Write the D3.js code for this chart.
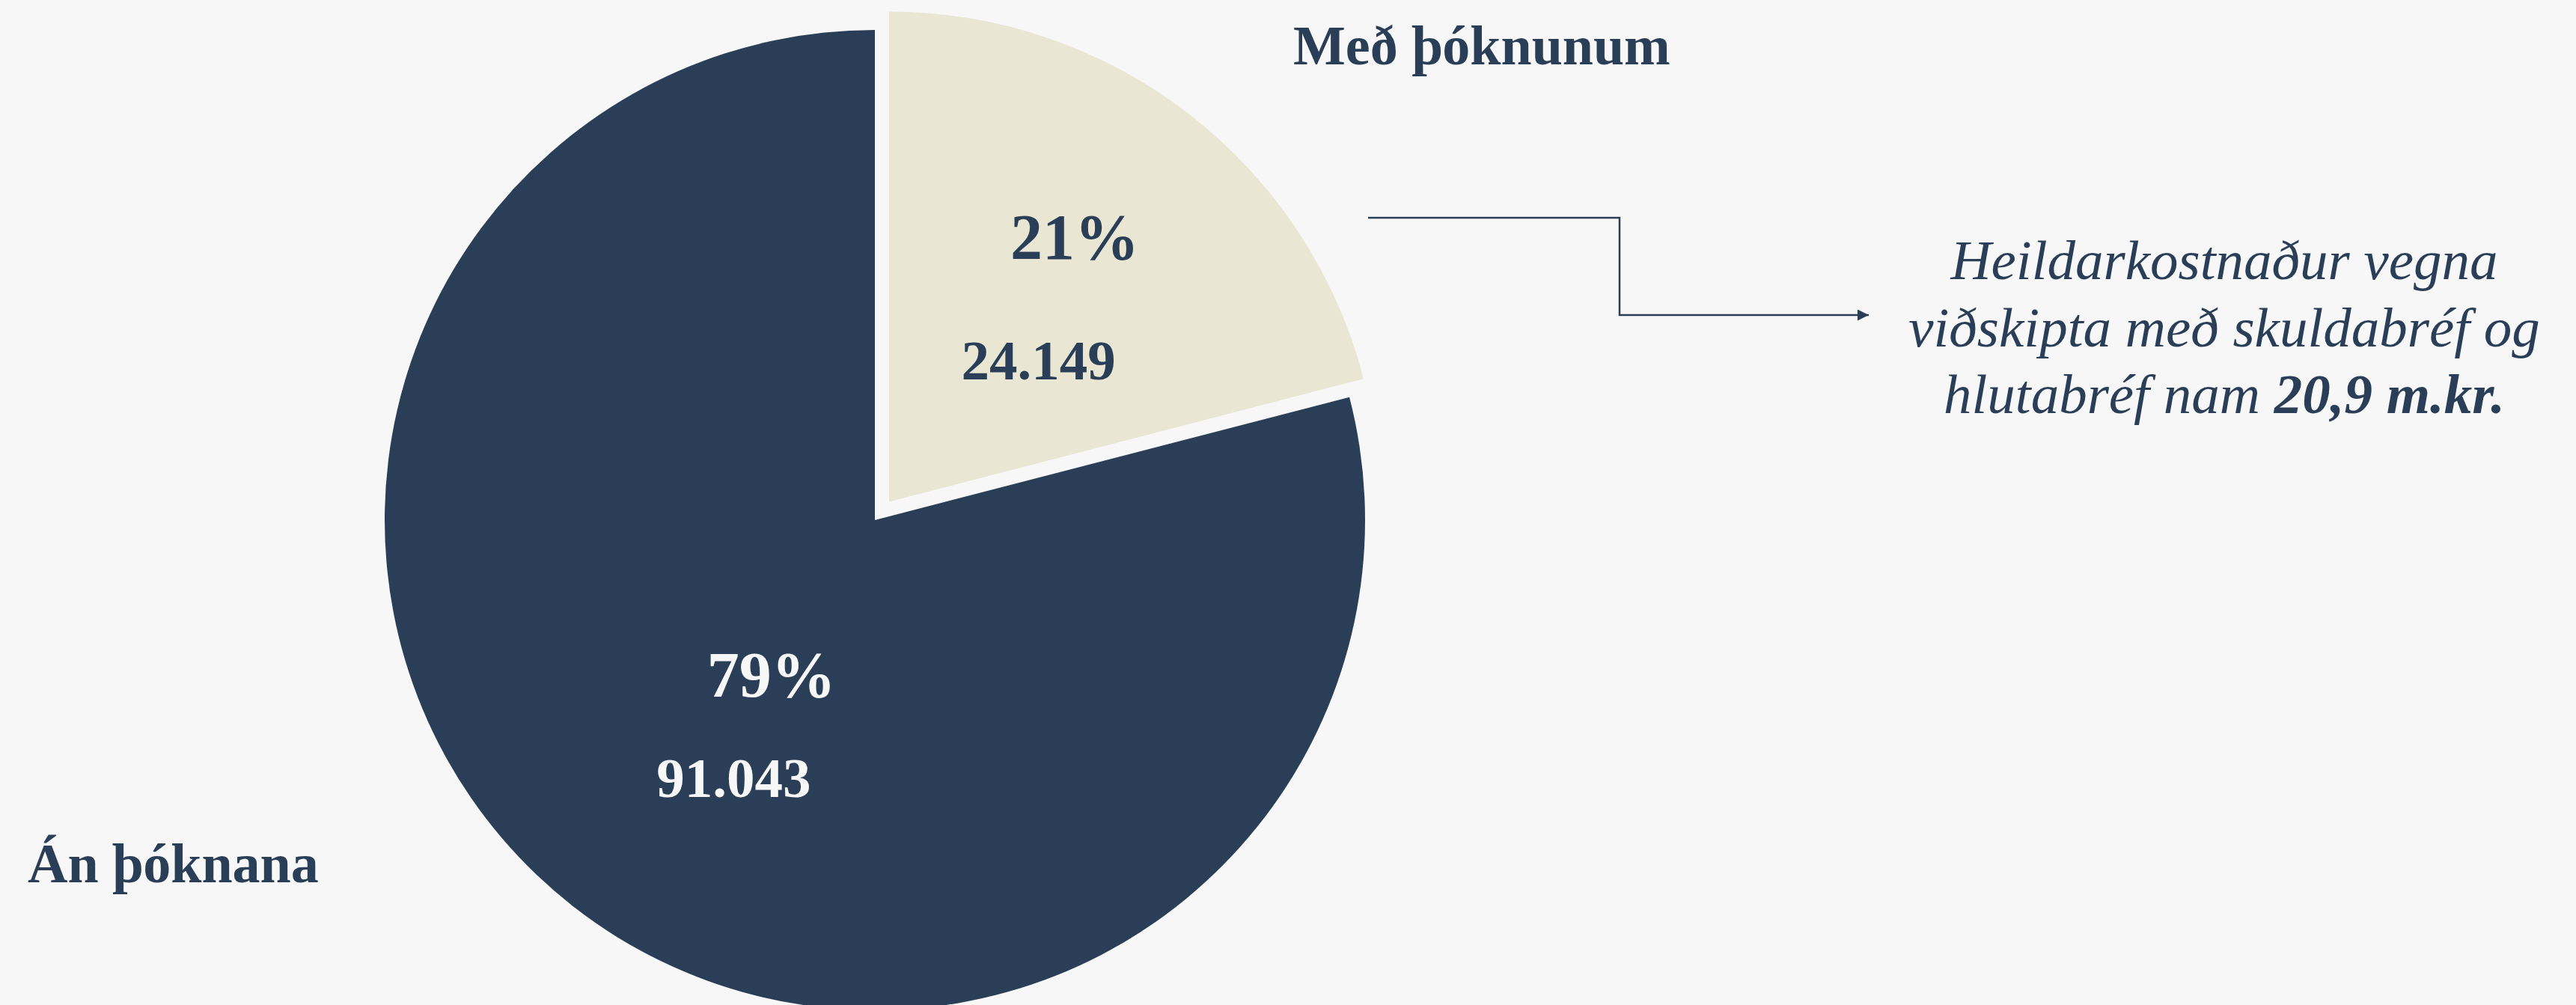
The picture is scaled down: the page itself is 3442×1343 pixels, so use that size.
<!DOCTYPE html>
<html>
<head>
<meta charset="utf-8">
<script src="https://cdn.jsdelivr.net/npm/d3@7"></script>
<style>
  body { margin: 0; background: #f7f7f7; }
  svg { display: block; }
  text { font-family: "Liberation Serif", "Times New Roman", serif; }
</style>
</head>
<body>
<svg width="3442" height="1343"></svg>
<script>
/* data */
var categories = ["Með þóknunum", "Án þóknana"];
var values = [24149, 91043];
var colors = ["#e9e6d4", "#2a3f57"];
var labelColors = ["#2a3f57", "#f7f7f7"];
var noteLines = [
  [{ t: "Heildarkostnaður vegna", b: false }],
  [{ t: "viðskipta með skuldabréf og", b: false }],
  [{ t: "hlutabréf nam ", b: false }, { t: "20,9 m.kr.", b: true }]
];

var svg = d3.select("svg"),
    cx = 1169, cy = 695, r = 655,
    explode = 31;

var is = d3.formatLocale({ decimal: ",", thousands: ".", grouping: [3], currency: ["", " kr."] });
var fmtNum = is.format(",.0f"),
    fmtPct = d3.format(".0%");

var total = d3.sum(values);

var pie = d3.pie().sort(null).value(function(d) { return d; });
var arc = d3.arc().innerRadius(0).outerRadius(r);

var arcs = pie(values);

// label placement per slice: [angle offset from start (deg), radius fraction]
var pctPos = [[35, 0.66], [138.3, 0.38]],
    valPos = [[46.5, 0.42], [133.2, 0.60]];

var g = svg.append("g")
    .attr("transform", "translate(" + cx + "," + cy + ")");

var slice = g.selectAll("g.slice")
  .data(arcs)
  .enter().append("g")
    .attr("class", "slice")
    .attr("transform", function(d, i) {
      if (i !== 0) return null;
      var mid = (d.startAngle + d.endAngle) / 2;
      var p = d3.pointRadial(mid, explode);
      return "translate(" + p[0] + "," + p[1] + ")";
    });

slice.append("path")
    .attr("d", arc)
    .attr("fill", function(d, i) { return colors[i]; });

slice.append("text")
    .attr("transform", function(d, i) {
      var p = d3.pointRadial(d.startAngle + pctPos[i][0] * Math.PI / 180, pctPos[i][1] * r);
      return "translate(" + p[0] + "," + p[1] + ")";
    })
    .attr("text-anchor", "middle")
    .attr("dy", "0.34em")
    .attr("font-size", 86)
    .attr("font-weight", "bold")
    .attr("fill", function(d, i) { return labelColors[i]; })
    .text(function(d) { return fmtPct(d.value / total); });

slice.append("text")
    .attr("transform", function(d, i) {
      var p = d3.pointRadial(d.startAngle + valPos[i][0] * Math.PI / 180, valPos[i][1] * r);
      return "translate(" + p[0] + "," + p[1] + ")";
    })
    .attr("text-anchor", "middle")
    .attr("dy", "0.34em")
    .attr("font-size", 75)
    .attr("font-weight", "bold")
    .attr("fill", function(d, i) { return labelColors[i]; })
    .text(function(d) { return fmtNum(d.value); });

// category names
svg.append("text")
    .attr("x", 1728).attr("y", 86)
    .attr("font-size", 74).attr("font-weight", "bold")
    .attr("fill", "#2a3f57")
    .text(categories[0]);

svg.append("text")
    .attr("x", 37).attr("y", 1179)
    .attr("font-size", 74).attr("font-weight", "bold")
    .attr("fill", "#2a3f57")
    .text(categories[1]);

// connector arrow
svg.append("defs").append("marker")
    .attr("id", "arrow")
    .attr("viewBox", "0 0 10 10")
    .attr("refX", 10).attr("refY", 5)
    .attr("markerWidth", 6).attr("markerHeight", 6)
    .attr("markerUnits", "strokeWidth")
    .attr("orient", "auto")
  .append("path")
    .attr("d", "M0,0L10,5L0,10z")
    .attr("fill", "#2a3f57");

svg.append("path")
    .attr("d", d3.line()([[1828, 291], [2164, 291], [2164, 421], [2497, 421]]))
    .attr("fill", "none")
    .attr("stroke", "#2a3f57")
    .attr("stroke-width", 2.5)
    .attr("marker-end", "url(#arrow)");

// note
var note = svg.append("text")
    .attr("x", 2972).attr("y", 373)
    .attr("text-anchor", "middle")
    .attr("font-size", 75)
    .attr("font-style", "italic")
    .attr("fill", "#2a3f57");

noteLines.forEach(function(line, i) {
  line.forEach(function(part, j) {
    var ts = note.append("tspan")
        .attr("font-weight", part.b ? "bold" : null)
        .text(part.t);
    if (j === 0) ts.attr("x", 2972).attr("dy", i === 0 ? 0 : 89.5);
  });
});
</script>
</body>
</html>
